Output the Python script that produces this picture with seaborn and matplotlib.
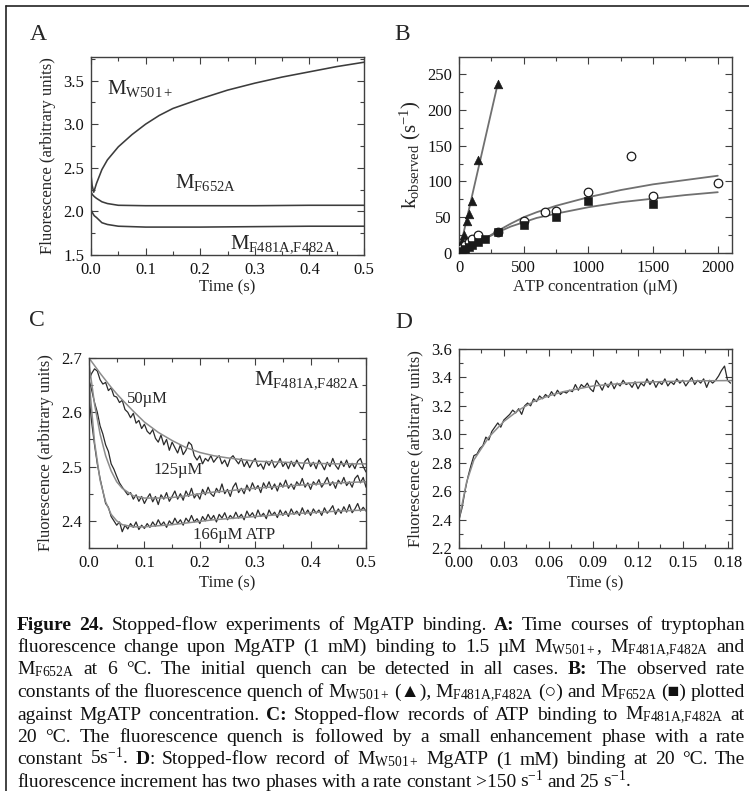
import numpy as np
import pandas as pd
import matplotlib
matplotlib.use("Agg")
import matplotlib.pyplot as plt
from matplotlib.ticker import MultipleLocator, FormatStrFormatter
import seaborn as sns

sns.set_style("ticks")
plt.rcParams['font.family'] = ['Liberation Serif', 'DejaVu Sans']
plt.rcParams['mathtext.fontset'] = 'custom'
plt.rcParams['mathtext.rm'] = 'Liberation Serif'
plt.rcParams['mathtext.it'] = 'Liberation Serif:italic'
plt.rcParams['mathtext.bf'] = 'Liberation Serif:bold'

# ---------------- data ----------------
# Panel A
a_w501_t = [0, 0.002, 0.005, 0.01, 0.02, 0.03, 0.05, 0.075, 0.1, 0.125, 0.15, 0.2, 0.25, 0.3, 0.35, 0.4, 0.45, 0.5]
a_w501_y = [2.42, 2.30, 2.22, 2.32, 2.48, 2.59, 2.74, 2.88, 3.00, 3.10, 3.18, 3.29, 3.39, 3.47, 3.54, 3.60, 3.66, 3.71]
a_f652_t = [0, 0.003, 0.006, 0.01, 0.015, 0.02, 0.03, 0.04, 0.05, 0.1, 0.2, 0.3, 0.4, 0.5]
a_f652_y = [2.22, 2.19, 2.17, 2.15, 2.13, 2.11, 2.09, 2.08, 2.07, 2.065, 2.065, 2.065, 2.07, 2.07]
a_f481_t = [0, 0.003, 0.006, 0.01, 0.015, 0.02, 0.03, 0.05, 0.1, 0.2, 0.3, 0.4, 0.5]
a_f481_y = [2.02, 1.98, 1.95, 1.93, 1.90, 1.87, 1.85, 1.83, 1.82, 1.82, 1.825, 1.83, 1.83]

# Panel B
b_tri_x = [20, 40, 60, 80, 100, 150, 300]
b_tri_y = [17, 25, 45, 54, 73, 130, 236]
b_circ_x = [10, 25, 50, 75, 100, 150, 300, 500, 667, 750, 1000, 1333, 1500, 2000]
b_circ_y = [3, 7, 11, 15, 20, 25, 30, 45, 58, 59, 85, 135, 80, 98]
b_sq_x = [10, 25, 50, 75, 100, 150, 200, 300, 500, 750, 1000, 1500]
b_sq_y = [1, 3, 5, 8, 11, 16, 20, 30, 39, 50, 72, 68]
b_trifit_x = [20, 300]
b_trifit_y = [16, 237]
b_circfit_x = [0, 100, 200, 300, 400, 500, 600, 750, 1000, 1250, 1500, 1750, 2000]
b_circfit_y = [0, 10, 20, 31, 41, 50, 57, 66, 78, 88, 96, 102, 108]
b_sqfit_x = [0, 100, 200, 300, 400, 500, 600, 750, 1000, 1250, 1500, 1750, 2000]
b_sqfit_y = [0, 10, 20, 29, 37, 43, 49, 55, 64, 71, 76, 81, 85]

# Panel C (sampled every 5 ms)
c_t = np.linspace(0, 0.5, 101)
c_50 = [2.660, 2.672, 2.680, 2.676, 2.660, 2.652, 2.655, 2.640, 2.645, 2.630,
        2.628, 2.618, 2.622, 2.605, 2.600, 2.590, 2.598, 2.580, 2.585, 2.570,
        2.578, 2.565, 2.560, 2.568, 2.552, 2.545, 2.558, 2.540, 2.550, 2.530,
        2.545, 2.535, 2.525, 2.540, 2.522, 2.530, 2.545, 2.540, 2.520, 2.512,
        2.520, 2.505, 2.515, 2.510, 2.520, 2.508, 2.515, 2.520, 2.505, 2.512,
        2.500, 2.515, 2.520, 2.512, 2.505, 2.515, 2.500, 2.510, 2.498, 2.508,
        2.515, 2.500, 2.505, 2.495, 2.510, 2.502, 2.512, 2.498, 2.505, 2.515,
        2.500, 2.508, 2.496, 2.510, 2.500, 2.512, 2.502, 2.495, 2.510, 2.515,
        2.500, 2.508, 2.496, 2.512, 2.504, 2.494, 2.508, 2.500, 2.515, 2.502,
        2.495, 2.510, 2.500, 2.512, 2.498, 2.506, 2.496, 2.510, 2.515, 2.500,
        2.490]
c_125 = [2.660, 2.640, 2.618, 2.600, 2.575, 2.560, 2.540, 2.528, 2.505, 2.495,
         2.482, 2.470, 2.462, 2.455, 2.448, 2.452, 2.440, 2.448, 2.436, 2.445,
         2.432, 2.442, 2.450, 2.435, 2.445, 2.430, 2.448, 2.440, 2.452, 2.436,
         2.445, 2.455, 2.440, 2.450, 2.438, 2.455, 2.445, 2.460, 2.442, 2.450,
         2.440, 2.458, 2.448, 2.462, 2.450, 2.445, 2.460, 2.452, 2.468, 2.450,
         2.458, 2.445, 2.462, 2.470, 2.452, 2.460, 2.450, 2.466, 2.455, 2.470,
         2.458, 2.465, 2.452, 2.470, 2.460, 2.472, 2.458, 2.468, 2.455, 2.470,
         2.462, 2.475, 2.460, 2.468, 2.458, 2.472, 2.465, 2.478, 2.462, 2.470,
         2.458, 2.472, 2.466, 2.476, 2.462, 2.470, 2.480, 2.465, 2.472, 2.460,
         2.475, 2.468, 2.480, 2.465, 2.472, 2.462, 2.478, 2.484, 2.470, 2.480,
         2.462]
c_166 = [2.630, 2.580, 2.540, 2.505, 2.478, 2.455, 2.432, 2.425, 2.408, 2.400,
         2.392, 2.398, 2.380, 2.392, 2.385, 2.395, 2.388, 2.398, 2.384, 2.392,
         2.386, 2.395, 2.388, 2.398, 2.390, 2.402, 2.392, 2.398, 2.388, 2.400,
         2.393, 2.405, 2.395, 2.402, 2.392, 2.405, 2.398, 2.410, 2.398, 2.404,
         2.395, 2.408, 2.400, 2.412, 2.402, 2.410, 2.398, 2.412, 2.405, 2.415,
         2.402, 2.410, 2.404, 2.416, 2.405, 2.412, 2.402, 2.418, 2.408, 2.415,
         2.405, 2.420, 2.408, 2.414, 2.404, 2.420, 2.410, 2.416, 2.406, 2.420,
         2.410, 2.418, 2.408, 2.422, 2.412, 2.418, 2.410, 2.424, 2.412, 2.420,
         2.410, 2.422, 2.414, 2.420, 2.410, 2.424, 2.414, 2.420, 2.428, 2.412,
         2.422, 2.414, 2.426, 2.416, 2.430, 2.415, 2.422, 2.432, 2.418, 2.425,
         2.418]
c_fit_t = [0, 0.01, 0.02, 0.03, 0.04, 0.05, 0.06, 0.08, 0.1, 0.125, 0.15, 0.175, 0.2,
           0.225, 0.25, 0.275, 0.3, 0.35, 0.4, 0.45, 0.5]
c_fit_50 = [2.700, 2.686, 2.672, 2.659, 2.646, 2.634, 2.623, 2.602, 2.582, 2.563, 2.548,
            2.535, 2.526, 2.520, 2.516, 2.513, 2.510, 2.508, 2.506, 2.505, 2.505]
c_fit_125 = [2.690, 2.615, 2.560, 2.520, 2.492, 2.472, 2.460, 2.446, 2.442, 2.442, 2.443,
             2.446, 2.450, 2.453, 2.455, 2.458, 2.460, 2.464, 2.467, 2.470, 2.472]
c_fit_166 = [2.660, 2.545, 2.475, 2.435, 2.412, 2.400, 2.393, 2.389, 2.389, 2.391, 2.393,
             2.396, 2.399, 2.402, 2.404, 2.406, 2.408, 2.412, 2.415, 2.418, 2.420]

# Panel D (sampled every 2 ms)
d_t = np.linspace(0, 0.182, 92)
d_y = [2.40, 2.48, 2.60, 2.70, 2.78, 2.85, 2.86, 2.90, 2.92, 2.98,
       2.96, 3.02, 3.05, 3.08, 3.05, 3.10, 3.12, 3.14, 3.17, 3.15,
       3.18, 3.14, 3.20, 3.22, 3.20, 3.25, 3.23, 3.27, 3.25, 3.28,
       3.26, 3.30, 3.27, 3.31, 3.28, 3.30, 3.29, 3.31, 3.30, 3.35,
       3.31, 3.35, 3.33, 3.36, 3.32, 3.30, 3.38, 3.35, 3.31, 3.36,
       3.33, 3.37, 3.32, 3.36, 3.34, 3.38, 3.35, 3.36, 3.33, 3.37,
       3.32, 3.36, 3.34, 3.39, 3.35, 3.38, 3.33, 3.37, 3.35, 3.39,
       3.34, 3.37, 3.35, 3.39, 3.36, 3.38, 3.34, 3.37, 3.40, 3.35,
       3.38, 3.36, 3.39, 3.33, 3.38, 3.36, 3.38, 3.41, 3.45, 3.48,
       3.38, 3.36]
d_fit_t = [0, 0.005, 0.01, 0.02, 0.03, 0.04, 0.05, 0.06, 0.07, 0.08, 0.09, 0.1, 0.12,
           0.14, 0.16, 0.183]
d_fit_y = [2.40, 2.66, 2.82, 2.98, 3.09, 3.17, 3.23, 3.27, 3.30, 3.32, 3.34, 3.35, 3.365,
           3.372, 3.376, 3.378]

# ---------------- figure ----------------
W, H = 749, 791
fig = plt.figure(figsize=(W / 100, H / 100), dpi=100)


def add_ax(x0, y0, x1, y1):
    return fig.add_axes([x0 / W, 1 - y1 / H, (x1 - x0) / W, (y1 - y0) / H])


SPINE = '#404040'


def style(ax, xmaj, xmin, ymaj, ymin, xfmt, yfmt):
    for s in ax.spines.values():
        s.set_visible(True)
        s.set_color(SPINE)
        s.set_linewidth(1.0)
    ax.xaxis.set_major_locator(MultipleLocator(xmaj))
    ax.xaxis.set_minor_locator(MultipleLocator(xmin))
    ax.yaxis.set_major_locator(MultipleLocator(ymaj))
    ax.yaxis.set_minor_locator(MultipleLocator(ymin))
    ax.xaxis.set_major_formatter(FormatStrFormatter(xfmt))
    ax.yaxis.set_major_formatter(FormatStrFormatter(yfmt))
    ax.tick_params(which='both', direction='in', top=True, right=True, color=SPINE,
                   width=0.8, labelsize=12, labelcolor='#111111')
    ax.tick_params(axis='x', pad=5)
    ax.tick_params(axis='y', pad=5)
    ax.tick_params(which='major', length=5)
    ax.tick_params(which='minor', length=3)
    ax.grid(False)


TR = '#3c3c3c'

# Panel A
axA = add_ax(91, 57, 364, 255)
for t, y in [(a_w501_t, a_w501_y), (a_f652_t, a_f652_y), (a_f481_t, a_f481_y)]:
    sns.lineplot(x=t, y=y, ax=axA, color=TR, lw=1.15, sort=False, estimator=None)
axA.set_xlim(0, 0.5)
axA.set_ylim(1.5, 3.77)
style(axA, 0.1, 0.05, 0.5, 0.25, '%.1f', '%.1f')
axA.set_xlabel('Time (s)', fontsize=12, labelpad=1)
axA.set_ylabel('Fluorescence (arbitrary units)', fontsize=12, labelpad=5)
axA.text(0.059, 0.843, r'M$_{\mathrm{W501+}}$', transform=axA.transAxes, fontsize=15, va='center')
axA.text(0.308, 0.364, r'M$_{\mathrm{F652A}}$', transform=axA.transAxes, fontsize=15, va='center')
axA.text(0.509, 0.055, r'M$_{\mathrm{F481A{,}F482A}}$', transform=axA.transAxes, fontsize=15, va='center')

# Panel B
axB = add_ax(459, 57, 732, 253)
sns.lineplot(x=b_trifit_x, y=b_trifit_y, ax=axB, color='#707070', lw=1.3, sort=False, estimator=None)
sns.lineplot(x=b_circfit_x, y=b_circfit_y, ax=axB, color='#707070', lw=1.3, sort=False, estimator=None)
sns.lineplot(x=b_sqfit_x, y=b_sqfit_y, ax=axB, color='#707070', lw=1.3, sort=False, estimator=None)
sns.scatterplot(x=b_tri_x, y=b_tri_y, ax=axB, marker='^', s=38, color='#1a1a1a', edgecolor='#1a1a1a', zorder=3)
sns.scatterplot(x=b_circ_x, y=b_circ_y, ax=axB, marker='o', s=38, facecolor='white', edgecolor='#1a1a1a', linewidth=0.9, zorder=3)
sns.scatterplot(x=b_sq_x, y=b_sq_y, ax=axB, marker='s', s=30, color='#1a1a1a', edgecolor='#1a1a1a', zorder=3)
axB.set_xlim(0, 2110)
axB.set_ylim(0, 274)
style(axB, 500, 250, 50, 25, '%d', '%d')
axB.set_xlabel(r'ATP concentration ($\mathrm{\mu}$M)', fontsize=12, labelpad=1)
axB.set_ylabel(r'k$_{\mathrm{observed}}$ (s$^{\mathrm{-1}}$)', fontsize=15, labelpad=3)

# Panel C
axC = add_ax(89, 358, 366, 548)
for y in [c_50, c_125, c_166]:
    sns.lineplot(x=c_t, y=y, ax=axC, color='#2a2a2a', lw=0.9, sort=False, estimator=None)
for y in [c_fit_50, c_fit_125, c_fit_166]:
    sns.lineplot(x=c_fit_t, y=y, ax=axC, color='#8c8c8c', lw=1.1, sort=False, estimator=None)
axC.set_xlim(0, 0.5)
axC.set_ylim(2.35, 2.70)
style(axC, 0.1, 0.05, 0.1, 0.05, '%.1f', '%.1f')
axC.set_xlabel('Time (s)', fontsize=12, labelpad=3)
axC.set_ylabel('Fluorescence (arbitrary units)', fontsize=12, labelpad=5)
axC.text(0.978, 0.884, r'M$_{\mathrm{F481A{,}F482A}}$', transform=axC.transAxes, fontsize=15, va='center', ha='right')
axC.text(0.137, 0.784, '50µM', transform=axC.transAxes, fontsize=12, va='center')
axC.text(0.231, 0.41, '125µM', transform=axC.transAxes, fontsize=12, va='center')
axC.text(0.375, 0.068, '166µM ATP', transform=axC.transAxes, fontsize=12, va='center')

# Panel D
axD = add_ax(459, 349, 732, 548)
sns.lineplot(x=d_t, y=d_y, ax=axD, color='#2a2a2a', lw=0.9, sort=False, estimator=None)
sns.lineplot(x=d_fit_t, y=d_fit_y, ax=axD, color='#8c8c8c', lw=1.1, sort=False, estimator=None)
axD.set_xlim(0, 0.183)
axD.set_ylim(2.2, 3.6)
style(axD, 0.03, 0.015, 0.2, 0.1, '%.2f', '%.1f')
axD.set_xlabel('Time (s)', fontsize=12, labelpad=3)
axD.set_ylabel('Fluorescence (arbitrary units)', fontsize=12, labelpad=5)

# panel letters
for lab, x, y in [('A', 38, 35), ('B', 402, 35), ('C', 37, 320), ('D', 404, 323)]:
    fig.text(x / W, 1 - y / H, lab, fontsize=17, ha='center', va='center')

# outer frame (left and top edges)
fig.add_artist(plt.Line2D([6 / W, 6 / W], [0, 1 - 6 / H], transform=fig.transFigure, color='#222222', lw=1.2))
fig.add_artist(plt.Line2D([6 / W, 1], [1 - 6 / H, 1 - 6 / H], transform=fig.transFigure, color='#222222', lw=1.2))

# ---------------- caption (justified) ----------------
sub_w501 = r'M$_{\mathrm{W501+}}$'
sub_f481 = r'M$_{\mathrm{F481A{,}F482A}}$'
sub_f652 = r'M$_{\mathrm{F652A}}$'
inv = r's$^{\mathrm{-1}}$'
caption_lines = [
    "**Figure** **24.** Stopped-flow experiments of MgATP binding. **A:** Time courses of tryptophan",
    "fluorescence change upon MgATP (1 mM) binding to 1.5 µM " + sub_w501 + ", " + sub_f481 + " and",
    sub_f652 + " at 6 °C. The initial quench can be detected in all cases. **B:** The observed rate",
    "constants of the fluorescence quench of " + sub_w501 + " (▲), " + sub_f481 + " (○) and " + sub_f652 + " (■) plotted",
    "against MgATP concentration. **C:** Stopped-flow records of ATP binding to " + sub_f481 + " at",
    "20 °C. The fluorescence quench is followed by a small enhancement phase with a rate",
    "constant 5" + inv + ". **D**|: Stopped-flow record of " + sub_w501 + " MgATP (1 mM) binding at 20 °C. The",
    "fluorescence increment has two phases with a rate constant >150 " + inv + " and 25 " + inv + ".",
]
CAP_L, CAP_R = 17, 745
CAP_Y0, CAP_DY = 629.5, 22.5
CAP_FS = 14

renderer = fig.canvas.get_renderer()
for i, line in enumerate(caption_lines):
    words = line.split(' ')
    items = []
    for w in words:
        parts = w.split('|')
        arts = []
        for p in parts:
            bold = p.startswith('**') and p.endswith('**') and len(p) > 4
            txt = p[2:-2] if bold else p
            a = fig.text(0, 1 - (CAP_Y0 + i * CAP_DY) / H, txt, fontsize=CAP_FS,
                         fontweight='bold' if bold else 'normal', va='baseline', ha='left',
                         color='#111111')
            arts.append(a)
        items.append(arts)
    widths = []
    for arts in items:
        ws = [a.get_window_extent(renderer).width for a in arts]
        widths.append(ws)
    total = sum(sum(ws) for ws in widths)
    if i < len(caption_lines) - 1 and len(items) > 1:
        gap = (CAP_R - CAP_L - total) / (len(items) - 1)
    else:
        gap = 4.0
    x = CAP_L
    for arts, ws in zip(items, widths):
        for a, w in zip(arts, ws):
            a.set_x(x / W)
            x += w
        x += gap

fig.savefig('out.png', dpi=100)
